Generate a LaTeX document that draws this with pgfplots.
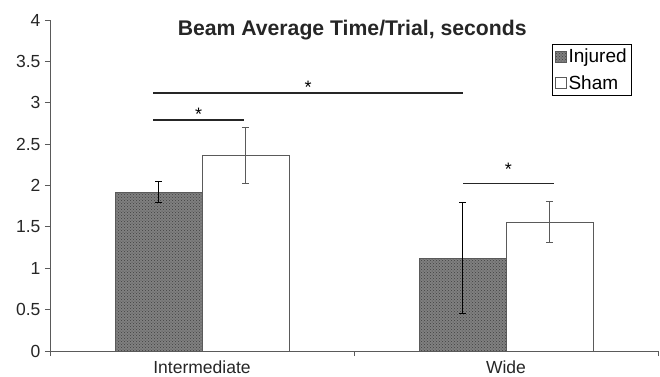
\documentclass[border=0pt]{standalone}
\usepackage{pgfplots}
\pgfplotsset{compat=1.18}
\usepackage{fontspec}
\setmainfont{Liberation Sans}
\usetikzlibrary{patterns}
\definecolor{axgray}{RGB}{90,90,90}
\begin{document}
\begin{tikzpicture}
\begin{axis}[
  scale only axis,
  width=608pt, height=331pt,
  xmin=-0.5, xmax=1.5,
  ymin=0, ymax=4,
  ytick={0,0.5,...,4},
  xtick={-0.5,0.5,1.5},
  xticklabels={Intermediate,Wide},
  x tick label as interval,
  axis x line*=bottom,
  axis y line*=left,
  axis line style={axgray, line width=1pt},
  tick style={axgray, line width=0.8pt},
  tick align=outside,
  major tick length=5pt,
  ticklabel style={font=\fontsize{17.5}{17.5}\selectfont, text=black!85},
  xticklabel style={yshift=-1pt},
  /pgf/number format/assume math mode=true,
  yticklabel style={/pgf/number format/fixed, /pgf/number format/precision=1, xshift=-1pt},
  ybar=0pt,
  bar width=0.286,
  legend style={at={(0.826,0.927)}, anchor=north west, draw=black, line width=0.7pt,
    font=\fontsize{19}{20}\selectfont, inner sep=2.5pt, row sep=7pt,
    legend cell align=left},
  legend image code/.code={\draw[#1, line width=0.5pt] (0pt,-5.5pt) rectangle (11pt,5.5pt);},
  clip=false,
]
\coordinate (SW) at (rel axis cs:0,0);
\coordinate (NE) at (rel axis cs:1,1);
\addplot[draw=axgray, line width=0.6pt, fill=black!50,
  postaction={pattern=crosshatch dots, pattern color=black!75},
  error bars/.cd, y dir=both, y explicit,
  error bar style={black, line width=0.8pt},
  error mark options={rotate=90, mark size=3.5pt, black, line width=0.8pt}]
  coordinates {(0,1.92) +- (0,0.13) (1,1.12) +- (0,0.67)};
\addlegendentry{Injured}
\addplot[draw=axgray, line width=0.6pt, fill=white,
  error bars/.cd, y dir=both, y explicit,
  error bar style={axgray, line width=0.8pt},
  error mark options={rotate=90, mark size=3.5pt, axgray, line width=0.8pt}]
  coordinates {(0,2.36) +- (0,0.34) (1,1.56) +- (0,0.25)};
\addlegendentry{Sham}
\draw[black!85, line width=1.6pt] (axis cs:-0.161,3.12) -- (axis cs:0.859,3.12);
\node[font=\fontsize{18}{18}\selectfont] at (axis cs:0.349,3.19) {*};
\draw[black!85, line width=1.6pt] (axis cs:-0.161,2.79) -- (axis cs:0.138,2.79);
\node[font=\fontsize{18}{18}\selectfont] at (axis cs:-0.011,2.86) {*};
\draw[black!85, line width=0.8pt] (axis cs:0.859,2.03) -- (axis cs:1.158,2.03);
\node[font=\fontsize{18}{18}\selectfont] at (axis cs:1.008,2.2) {*};
\node[font=\bfseries\fontsize{21.2}{21.2}\selectfont, text=black!85] at (rel axis cs:0.497,0.97) {Beam Average Time/Trial, seconds};
\end{axis}
\pgfresetboundingbox
\path ([shift={(-50pt,-25pt)}]SW) rectangle ([shift={(2pt,20pt)}]NE);
\end{tikzpicture}
\end{document}
